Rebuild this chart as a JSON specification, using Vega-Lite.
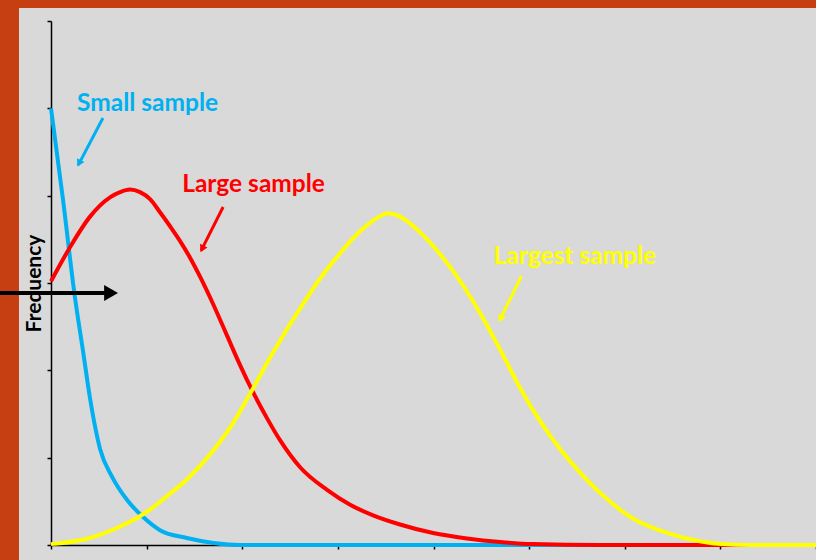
{
  "$schema": "https://vega.github.io/schema/vega-lite/v6.json",
  "width": 765,
  "height": 524,
  "autosize": "none",
  "padding": {"left": 51, "top": 21, "right": 0, "bottom": 15},
  "background": "#D9D9D9",
  "config": {"view": {"stroke": null}, "font": "Lato"},
  "datasets": {
    "curves": [
      {"series": "Small sample", "x": 0, "y": 5.0},
      {"series": "Small sample", "x": 0.126, "y": 3.95},
      {"series": "Small sample", "x": 0.251, "y": 2.83},
      {"series": "Small sample", "x": 0.335, "y": 2.22},
      {"series": "Small sample", "x": 0.408, "y": 1.68},
      {"series": "Small sample", "x": 0.513, "y": 1.1},
      {"series": "Small sample", "x": 0.639, "y": 0.78},
      {"series": "Small sample", "x": 0.796, "y": 0.515},
      {"series": "Small sample", "x": 0.963, "y": 0.32},
      {"series": "Small sample", "x": 1.14, "y": 0.17},
      {"series": "Small sample", "x": 1.42, "y": 0.08},
      {"series": "Small sample", "x": 1.7, "y": 0.023},
      {"series": "Small sample", "x": 1.98, "y": 0.0},
      {"series": "Small sample", "x": 3.0, "y": 0.0},
      {"series": "Small sample", "x": 8.0, "y": 0.0},
      {"series": "Large sample", "x": 0, "y": 3.02},
      {"series": "Large sample", "x": 0.199, "y": 3.41},
      {"series": "Large sample", "x": 0.408, "y": 3.76},
      {"series": "Large sample", "x": 0.617, "y": 3.98},
      {"series": "Large sample", "x": 0.722, "y": 4.04},
      {"series": "Large sample", "x": 0.826, "y": 4.07},
      {"series": "Large sample", "x": 0.931, "y": 4.04},
      {"series": "Large sample", "x": 1.036, "y": 3.96},
      {"series": "Large sample", "x": 1.14, "y": 3.81},
      {"series": "Large sample", "x": 1.245, "y": 3.65},
      {"series": "Large sample", "x": 1.35, "y": 3.48},
      {"series": "Large sample", "x": 1.454, "y": 3.29},
      {"series": "Large sample", "x": 1.56, "y": 3.07},
      {"series": "Large sample", "x": 1.695, "y": 2.76},
      {"series": "Large sample", "x": 1.84, "y": 2.4},
      {"series": "Large sample", "x": 1.977, "y": 2.06},
      {"series": "Large sample", "x": 2.113, "y": 1.75},
      {"series": "Large sample", "x": 2.26, "y": 1.45},
      {"series": "Large sample", "x": 2.395, "y": 1.2},
      {"series": "Large sample", "x": 2.605, "y": 0.89},
      {"series": "Large sample", "x": 2.887, "y": 0.63},
      {"series": "Large sample", "x": 3.128, "y": 0.46},
      {"series": "Large sample", "x": 3.368, "y": 0.34},
      {"series": "Large sample", "x": 3.65, "y": 0.235},
      {"series": "Large sample", "x": 3.996, "y": 0.137},
      {"series": "Large sample", "x": 4.35, "y": 0.075},
      {"series": "Large sample", "x": 4.7, "y": 0.034},
      {"series": "Large sample", "x": 5.04, "y": 0.011},
      {"series": "Large sample", "x": 5.74, "y": 0.0},
      {"series": "Large sample", "x": 8.0, "y": 0.0},
      {"series": "Largest sample", "x": 0, "y": 0.01},
      {"series": "Largest sample", "x": 0.408, "y": 0.08},
      {"series": "Largest sample", "x": 0.69, "y": 0.195},
      {"series": "Largest sample", "x": 0.983, "y": 0.366},
      {"series": "Largest sample", "x": 1.213, "y": 0.56},
      {"series": "Largest sample", "x": 1.42, "y": 0.75},
      {"series": "Largest sample", "x": 1.695, "y": 1.08},
      {"series": "Largest sample", "x": 1.9, "y": 1.39},
      {"series": "Largest sample", "x": 2.08, "y": 1.73},
      {"series": "Largest sample", "x": 2.32, "y": 2.2},
      {"series": "Largest sample", "x": 2.605, "y": 2.71},
      {"series": "Largest sample", "x": 2.82, "y": 3.06},
      {"series": "Largest sample", "x": 3.03, "y": 3.35},
      {"series": "Largest sample", "x": 3.24, "y": 3.6},
      {"series": "Largest sample", "x": 3.45, "y": 3.77},
      {"series": "Largest sample", "x": 3.52, "y": 3.8},
      {"series": "Largest sample", "x": 3.65, "y": 3.76},
      {"series": "Largest sample", "x": 3.86, "y": 3.58},
      {"series": "Largest sample", "x": 4.07, "y": 3.33},
      {"series": "Largest sample", "x": 4.28, "y": 3.02},
      {"series": "Largest sample", "x": 4.49, "y": 2.65},
      {"series": "Largest sample", "x": 4.7, "y": 2.23},
      {"series": "Largest sample", "x": 4.91, "y": 1.79},
      {"series": "Largest sample", "x": 5.12, "y": 1.41},
      {"series": "Largest sample", "x": 5.33, "y": 1.09},
      {"series": "Largest sample", "x": 5.54, "y": 0.82},
      {"series": "Largest sample", "x": 5.82, "y": 0.52},
      {"series": "Largest sample", "x": 6.09, "y": 0.3},
      {"series": "Largest sample", "x": 6.45, "y": 0.137},
      {"series": "Largest sample", "x": 6.8, "y": 0.04},
      {"series": "Largest sample", "x": 7.01, "y": 0.011},
      {"series": "Largest sample", "x": 7.32, "y": 0.0},
      {"series": "Largest sample", "x": 8.0, "y": 0.0}
    ],
    "labels": [
      {"series": "Small sample", "x": 0.272, "y": 4.97},
      {"series": "Large sample", "x": 1.372, "y": 4.04},
      {"series": "Largest sample", "x": 4.628, "y": 3.22}
    ],
    "arrows": [
      {"series": "Small sample", "x": 0.543, "y": 4.89, "x2": 0.285, "y2": 4.35, "hx": 0.293, "hy": 4.37, "angle": 208},
      {"series": "Large sample", "x": 1.8, "y": 3.87, "x2": 1.57, "y2": 3.37, "hx": 1.58, "hy": 3.39, "angle": 207},
      {"series": "Largest sample", "x": 4.92, "y": 3.08, "x2": 4.69, "y2": 2.57, "hx": 4.7, "hy": 2.59, "angle": 206}
    ],
    "pointer": [
      {"x": -0.534, "y": 2.885, "x2": 0.6, "hx": 0.628, "angle": 90}
    ]
  },
  "layer": [
    {
      "data": {"values": [{}]},
      "mark": {"type": "rect", "color": "#C63F12"},
      "encoding": {
        "x": {"datum": -0.54, "type": "quantitative", "scale": {"domain": [0, 8], "nice": false, "zero": false}},
        "x2": {"datum": -0.335},
        "y": {"datum": -0.2, "type": "quantitative", "scale": {"domain": [0, 6], "nice": false, "zero": false}},
        "y2": {"datum": 6.25}
      }
    },
    {
      "data": {"values": [{}]},
      "mark": {"type": "rect", "color": "#C63F12"},
      "encoding": {
        "x": {"datum": -0.54, "type": "quantitative"},
        "x2": {"datum": 8.05},
        "y": {"datum": 6.149, "type": "quantitative"},
        "y2": {"datum": 6.25}
      }
    },
    {
      "data": {"name": "curves"},
      "mark": {"type": "line", "interpolate": "monotone", "strokeWidth": 4},
      "encoding": {
        "x": {
          "field": "x", "type": "quantitative",
          "scale": {"domain": [0, 8], "nice": false, "zero": false},
          "axis": {"values": [0, 1, 2, 3, 4, 5, 6, 7, 8], "labels": false, "grid": false, "title": null, "domainColor": "#000000", "domainWidth": 1.5, "tickColor": "#000000", "tickSize": 4, "tickWidth": 1.5}
        },
        "y": {
          "field": "y", "type": "quantitative",
          "scale": {"domain": [0, 6], "nice": false, "zero": false},
          "axis": {"values": [0, 1, 2, 3, 4, 5, 6], "labels": false, "grid": false, "title": "Frequency", "titleFont": "Lato", "titleFontSize": 21, "titleFontWeight": "bold", "titleColor": "#000000", "titlePadding": 2, "domainColor": "#000000", "domainWidth": 1.5, "tickColor": "#000000", "tickSize": 4, "tickWidth": 1.5}
        },
        "color": {
          "field": "series", "type": "nominal",
          "scale": {"domain": ["Small sample", "Large sample", "Largest sample"], "range": ["#00B0F0", "#FF0000", "#FFFF00"]},
          "legend": null
        },
        "order": {"field": "x", "type": "quantitative"}
      }
    },
    {
      "data": {"name": "labels"},
      "mark": {"type": "text", "align": "left", "baseline": "alphabetic", "font": "Lato", "fontSize": 24.5, "fontWeight": "bold"},
      "encoding": {
        "x": {"field": "x", "type": "quantitative"},
        "y": {"field": "y", "type": "quantitative"},
        "text": {"field": "series"},
        "color": {"field": "series", "type": "nominal", "legend": null}
      }
    },
    {
      "data": {"name": "arrows"},
      "mark": {"type": "rule", "strokeWidth": 3},
      "encoding": {
        "x": {"field": "x", "type": "quantitative"},
        "y": {"field": "y", "type": "quantitative"},
        "x2": {"field": "x2"},
        "y2": {"field": "y2"},
        "color": {"field": "series", "type": "nominal", "legend": null}
      }
    },
    {
      "data": {"name": "arrows"},
      "mark": {"type": "point", "shape": "triangle-up", "filled": true, "opacity": 1, "size": 70},
      "encoding": {
        "x": {"field": "hx", "type": "quantitative"},
        "y": {"field": "hy", "type": "quantitative"},
        "angle": {"field": "angle", "type": "quantitative", "scale": null},
        "color": {"field": "series", "type": "nominal", "legend": null}
      }
    },
    {
      "data": {"name": "pointer"},
      "mark": {"type": "rule", "strokeWidth": 4, "color": "#000000"},
      "encoding": {
        "x": {"field": "x", "type": "quantitative"},
        "x2": {"field": "x2"},
        "y": {"field": "y", "type": "quantitative"}
      }
    },
    {
      "data": {"name": "pointer"},
      "mark": {"type": "point", "shape": "triangle-up", "filled": true, "opacity": 1, "size": 256, "color": "#000000"},
      "encoding": {
        "x": {"field": "hx", "type": "quantitative"},
        "y": {"field": "y", "type": "quantitative"},
        "angle": {"field": "angle", "type": "quantitative", "scale": null}
      }
    }
  ]
}
